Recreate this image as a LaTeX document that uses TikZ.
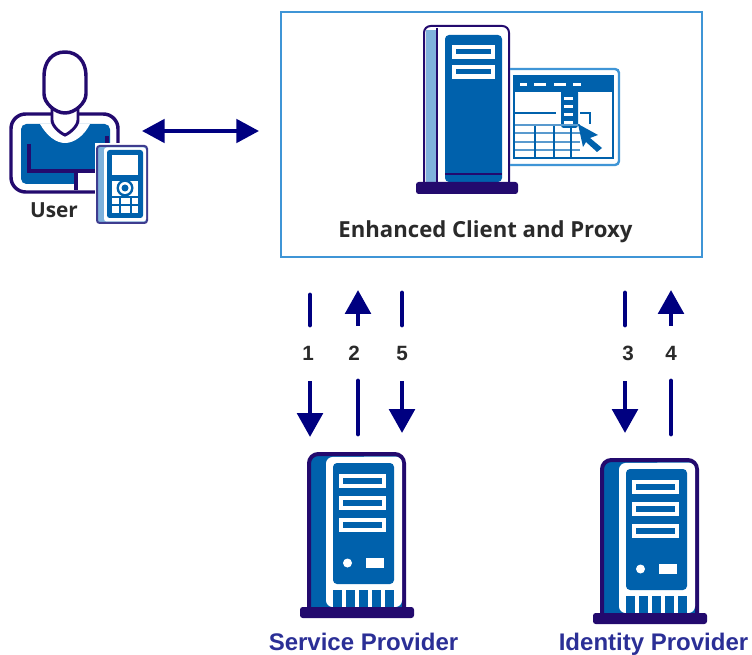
\documentclass[tikz,border=0pt]{standalone}
\usepackage{fontspec}
\setmainfont{Liberation Sans}
\newfontfamily\opensans{Open Sans}
\usetikzlibrary{arrows.meta}
\definecolor{navyA}{HTML}{000080}
\definecolor{darkP}{HTML}{230A6E}
\definecolor{midB}{HTML}{0061AC}
\definecolor{lightB}{HTML}{7FB2DC}
\definecolor{frameB}{HTML}{3F95D6}
\definecolor{txtG}{HTML}{2A2A2A}
\definecolor{provB}{HTML}{2B2F96}
\tikzset{
  conn/.style={draw=navyA,line width=3.6pt,line cap=round},
  connarrow/.style={conn,line cap=butt,-{Triangle[width=19pt,length=18pt]}},
  biarrow/.style={draw=navyA,line width=3pt,{Triangle[width=17.5pt,length=17pt]}-{Triangle[width=17.5pt,length=17pt]}},
  numlabel/.style={font=\fontsize{15.5pt}{17pt}\selectfont\bfseries,text=txtG,inner sep=0pt},
  provlabel/.style={font=\fontsize{18pt}{20pt}\selectfont\bfseries,text=provB,inner sep=0pt},
  darklabel/.style={font=\opensans\fontsize{16.6pt}{18pt}\selectfont\bfseries,text=txtG,inner sep=0pt},
  frame/.style={draw=frameB,line width=1.6pt,fill=white,inner sep=0pt},
  dk/.style={draw=darkP,line width=2.6pt,fill=white},
  bl/.style={fill=midB,draw=none},
  wh/.style={fill=white,draw=none},
}
\newcommand{\serverIcon}[2]{%
\begin{scope}[shift={(#1,#2)}]
  \draw[draw=darkP,line width=3pt,fill=midB,rounded corners=7pt] (309,607) -- (309,454) -- (404,454) -- (404,607);
  \fill[white,rounded corners=5pt] (326,457) -- (326,607) -- (402,607) -- (402,456.5) -- cycle;
  \fill[bl,rounded corners=3pt] (333,463) rectangle (394,584);
  \foreach \y in {474,496,518}{
    \fill[wh] (339,\y) rectangle (386,\y+14);
    \fill[bl] (343,\y+4) rectangle (382,\y+10);
  }
  \fill[wh] (347.5,563) circle[radius=4.5];
  \fill[wh] (366,558) rectangle (384,568);
  \foreach \x in {333,346,359,372,385}{\fill[bl] (\x,590) rectangle (\x+8.5,607);}
  \fill[darkP,rounded corners=2pt] (300,607) rectangle (414,618);
\end{scope}}
\begin{document}
\begin{tikzpicture}[x=0.75pt,y=-0.75pt]
\useasboundingbox (0,0) rectangle (752,655);
% --- proxy frame
\node[frame,minimum width=315.5pt,minimum height=183.5pt,anchor=north west] (proxy) at (280,11) {};
% top server
\fill[lightB] (426,30) rectangle (437,182);
\draw[darkP,line width=1.5pt,rounded corners=5pt] (424,182) -- (424,26) -- (509,26) -- (509,182);
\draw[darkP,line width=1.5pt] (437,28) -- (437,182);
\fill[bl,rounded corners=3pt] (445,35) rectangle (502,182);
\foreach \y in {45,65}{
  \fill[wh] (452,\y) rectangle (495,\y+14);
  \fill[bl] (456,\y+4) rectangle (491,\y+9.5);
}
\draw[darkP,line width=.8pt] (445,174) -- (502,174);
\fill[darkP,rounded corners=2pt] (416,182) rectangle (518,194);
% window
\draw[frameB,line width=1.8pt,rounded corners=3pt] (510,69) -- (619,69) -- (619,165) -- (510,165);
\draw[midB,line width=1.6pt] (514,76) rectangle (613,158);
\fill[bl] (514,76) rectangle (613,92);
\foreach \x/\w in {520/7,534/12,554/12,573/8}{\fill[wh] (\x,83) rectangle (\x+\w,86);}
\fill[bl,rounded corners=2pt] (561,90) rectangle (578,128);
\foreach \y in {97,105,113,121}{\fill[wh] (564,\y) rectangle (573,\y+3.5);}
\draw[midB,line width=1.6pt] (515,113) -- (556,113);
\draw[midB,line width=1.6pt] (580,113) -- (590,113) -- (590,124);
\foreach \y in {125,133,142,150}{\draw[lightB!70!midB,line width=1.6pt] (515,\y) -- (580,\y);}
\foreach \x in {535,554,571}{\draw[midB,line width=1.4pt] (\x,126) -- (\x,158);}
\fill[midB] (578,124) -- (598,135) -- (590,138) -- (602,148) -- (597,152) -- (586,142) -- (583,147) -- cycle;
\node[darklabel] (proxytext) at (485.5,231.5) {Enhanced Client and Proxy};
% --- user
\draw[dk,rounded corners=11pt] (11,192) -- (11,114) -- (118,114) -- (118,192) -- cycle;
\fill[bl,rounded corners=4pt] (21,124) -- (110,124) -- (110,184) -- (21,184) -- cycle;
\fill[wh] (76,173) rectangle (110,188);
\fill[wh] (76,184) rectangle (100,190);
\draw[darkP,line width=2.6pt] (29,144) -- (29,171) -- (76,171) -- (76,190);
\draw[darkP,line width=2.6pt] (76,171) -- (105,171);
\draw[darkP,line width=3pt] (107,136) -- (107,148);
\fill[wh] (40,124) .. controls (47,136) and (56,143) .. (65,143) .. controls (74,143) and (84,136) .. (90,124) -- cycle;
\draw[darkP,line width=2.2pt,fill=white] (52,108) -- (52,120) .. controls (52,126) and (60,133) .. (65,135) .. controls (70,133) and (78,126) .. (78,120) -- (78,108) -- cycle;
\draw[darkP,line width=2.6pt,fill=white] (65,52) .. controls (78,52) and (86,62) .. (86,76) -- (86,94) .. controls (86,103) and (75,113) .. (65,113) .. controls (55,113) and (44,103) .. (44,94) -- (44,76) .. controls (44,62) and (52,52) .. (65,52) -- cycle;
% phone
\fill[white] (95,143) rectangle (150,225);
\draw[darkP!70!lightB,line width=1.5pt,fill=lightB,rounded corners=2pt] (97,146) rectangle (147,223);
\fill[white,rounded corners=2pt] (104,147.5) rectangle (146,221.5);
\fill[bl,rounded corners=2pt] (107,150) rectangle (143,218);
\fill[wh] (112,155) rectangle (138,175);
\fill[wh] (112,181) rectangle (138,213);
\fill[bl] (125,188) circle[radius=8.5];
\fill[wh] (125,188) circle[radius=6];
\fill[bl] (125,188) circle[radius=3.5];
\fill[bl] (112,196.5) rectangle (138,198);
\fill[bl] (112,204.5) rectangle (138,206);
\fill[bl] (119,197) rectangle (121,213);
\fill[bl] (130,197) rectangle (132,213);
\node[darklabel,font=\opensans\fontsize{15.6pt}{18pt}\selectfont\bfseries] (usertext) at (54,210) {User};
\coordinate (userR) at (142,131);
\coordinate (userL) at (259,131);
\draw[biarrow] (userR) -- (userL);
% --- connectors
\coordinate (a1a) at (310,295); \coordinate (a1b) at (310,325);
\coordinate (a1c) at (310,381); \coordinate (a1d) at (310,437);
\coordinate (a2a) at (358,326); \coordinate (a2b) at (358,290);
\coordinate (a2c) at (358,381); \coordinate (a2d) at (358,434);
\coordinate (a5a) at (402,293); \coordinate (a5b) at (402,325);
\coordinate (a5c) at (402,381); \coordinate (a5d) at (402,433);
\coordinate (a3a) at (625,293); \coordinate (a3b) at (625,325);
\coordinate (a3c) at (625,381); \coordinate (a3d) at (625,433);
\coordinate (a4a) at (671,326); \coordinate (a4b) at (671,290);
\coordinate (a4c) at (671,381); \coordinate (a4d) at (671,434);
\draw[conn] (a1a) -- (a1b); \draw[connarrow] (a1c) -- (a1d);
\draw[connarrow] (a2a) -- (a2b); \draw[conn] (a2c) -- (a2d);
\draw[conn] (a5a) -- (a5b); \draw[connarrow] (a5c) -- (a5d);
\draw[conn] (a3a) -- (a3b); \draw[connarrow] (a3c) -- (a3d);
\draw[connarrow] (a4a) -- (a4b); \draw[conn] (a4c) -- (a4d);
\node[numlabel] (n1) at (308,353) {1};
\node[numlabel] (n2) at (354,353) {2};
\node[numlabel] (n5) at (402,353) {5};
\node[numlabel] (n3) at (628,353) {3};
\node[numlabel] (n4) at (671,353) {4};
% --- providers
\serverIcon{0}{0}
\serverIcon{293}{6}
\node[provlabel] (sp) at (363.5,642) {Service Provider};
\node[provlabel] (idp) at (653.5,644.5) {Identity Provider};
\end{tikzpicture}
\end{document}
